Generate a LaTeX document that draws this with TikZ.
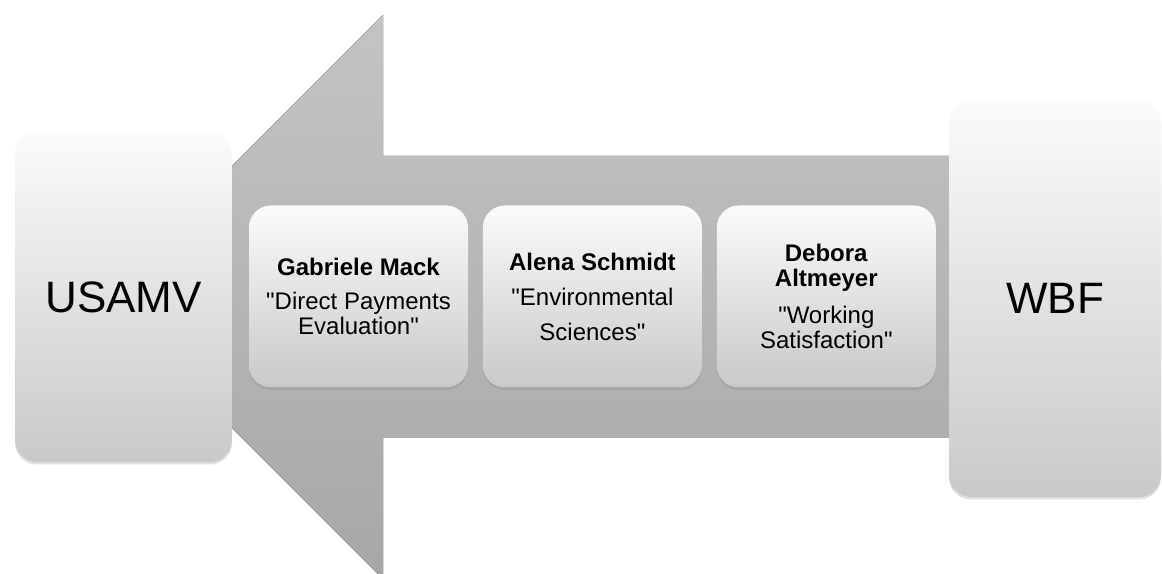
\documentclass[tikz,border=0pt]{standalone}
\usepackage{fontspec}
\setmainfont{Liberation Sans}
\usetikzlibrary{positioning,shadows}

\begin{document}
\begin{tikzpicture}[x=1pt,y=1pt]
  \definecolor{arrowlight}{HTML}{C4C4C4}
  \definecolor{arrowdark}{HTML}{A7A7A7}
  \definecolor{boxtop}{HTML}{FBFBFB}
  \definecolor{boxbottom}{HTML}{C9C9C9}
  \newcommand{\membersep}[0]{14.5pt}
  \newcommand{\bigfont}[0]{\fontsize{44}{48}\selectfont}
  \newcommand{\memberfont}[0]{\fontsize{24}{25}\selectfont}
  \newcommand{\q}[0]{\textquotedbl}
  \tikzstyle{block}  = [rectangle, rounded corners=22pt, top color=boxtop, bottom color=boxbottom, inner sep=0pt,
                        drop shadow={opacity=0.25, shadow xshift=0pt, shadow yshift=-2.5pt}]
  \tikzstyle{uni}    = [block, font=\bigfont]
  \tikzstyle{member} = [block, align=center, font=\memberfont, minimum width=219pt, minimum height=182pt]

  \useasboundingbox (0,0) rectangle (1162,573);

  % big arrow in the back
  \fill [top color=arrowlight, bottom color=arrowdark]
    (101,276) -- (383,558) -- (383,417) -- (949,417) -- (949,135) -- (383,135) -- (383,-6) -- cycle;

  \node [uni, minimum width=217pt, minimum height=330pt] (usamv) at (123.5,276) {USAMV};
  \node [uni, minimum width=212pt, minimum height=397pt] (wbf)   at (1055,274.5) {WBF};

  \node [member] (mack) at (358.5,276.5)
    {\textbf{Gabriele Mack}\\[9pt]\q Direct Payments\\Evaluation\q};
  \node [member, right = \membersep of mack]    (schmidt)
    {\textbf{Alena Schmidt}\\[10pt]\q Environmental\\[10pt]Sciences\q};
  \node [member, right = \membersep of schmidt] (altmeyer)
    {\textbf{Debora}\\\textbf{Altmeyer}\\[12pt]\q Working\\Satisfaction\q};
\end{tikzpicture}
\end{document}
